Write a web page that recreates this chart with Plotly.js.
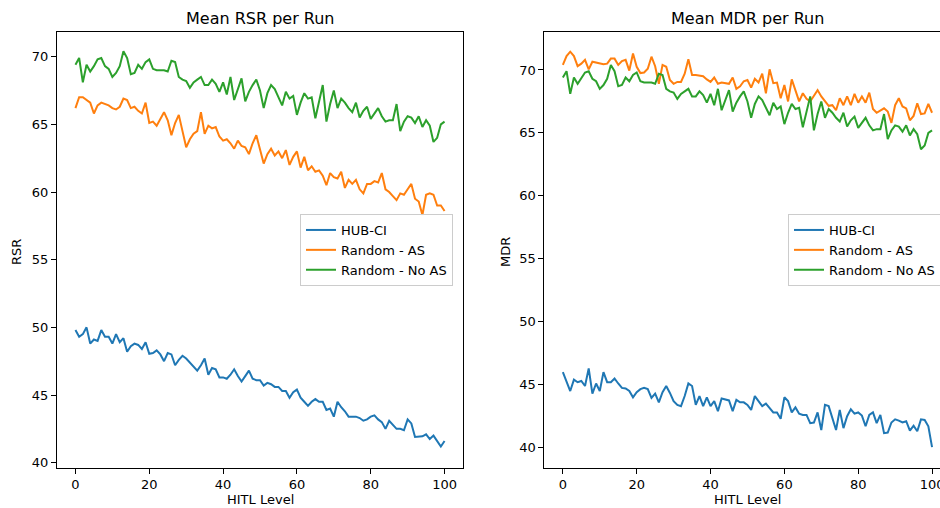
<!DOCTYPE html>
<html>
<head>
<meta charset="utf-8">
<script src="https://cdn.plot.ly/plotly-3.0.1.min.js"></script>
<style>
  html, body { margin: 0; padding: 0; background: #fff; overflow: hidden; width: 940px; height: 508px; }
  #chart { width: 960px; height: 508px; }
</style>
</head>
<body>
<div id="chart"></div>
<script>
const hitlLevel = [0,1,2,3,4,5,6,7,8,9,10,11,12,13,14,15,16,17,18,19,20,21,22,23,24,25,26,27,28,29,30,31,32,33,34,35,36,37,38,39,40,41,42,43,44,45,46,47,48,49,50,51,52,53,54,55,56,57,58,59,60,61,62,63,64,65,66,67,68,69,70,71,72,73,74,75,76,77,78,79,80,81,82,83,84,85,86,87,88,89,90,91,92,93,94,95,96,97,98,99,100];

const seriesNames = ["HUB-CI", "Random - AS", "Random - No AS"];

const rsrHub = [49.8,49.3,49.5,50.0,48.8,49.1,49.0,49.8,49.3,49.3,
48.8,49.5,48.9,49.2,48.2,48.6,48.8,48.7,48.4,48.9,
48.05,48.1,48.3,48.0,47.5,48.1,48.0,47.2,47.6,47.9,
47.7,47.4,47.1,46.8,47.2,47.7,46.5,47.0,46.9,46.3,
46.3,46.2,46.5,46.9,46.4,46.0,46.4,46.8,46.2,46.1,
46.1,45.7,45.9,45.8,45.6,45.6,45.3,45.3,44.8,45.2,
45.4,44.8,44.5,44.2,44.5,44.7,44.5,44.5,43.9,44.0,
43.4,44.5,44.1,43.8,43.4,43.4,43.4,43.3,43.1,43.2,
43.4,43.5,43.2,43.0,42.5,43.1,42.8,42.5,42.5,42.4,
43.2,42.9,41.9,41.9,41.95,42.1,41.75,42.0,41.6,41.2,
41.6];

const rsrAs = [66.2,67.0,67.0,66.8,66.6,65.8,66.4,66.6,66.5,66.4,
66.2,66.1,66.3,66.9,66.8,66.2,66.3,66.0,65.8,66.6,
65.1,65.2,64.9,65.4,65.9,65.3,64.2,65.1,65.7,64.5,
63.3,63.9,64.3,64.5,65.9,64.3,64.9,64.7,64.8,64.1,
63.8,63.9,63.6,63.2,63.8,63.4,63.3,62.8,63.6,64.2,
63.2,62.1,62.8,63.2,62.7,63.0,62.5,63.1,62.0,62.6,
63.0,61.8,62.6,61.6,61.9,61.5,61.6,61.2,60.5,61.4,
61.1,61.0,61.5,60.3,60.9,60.6,60.9,60.2,59.9,60.6,
60.6,60.8,60.7,61.4,60.2,60.0,59.7,59.4,59.9,59.8,
60.2,60.6,59.5,59.3,58.3,59.8,59.9,59.8,59.0,59.0,
58.6];

const rsrNoAs = [69.4,69.9,68.1,69.4,68.9,69.3,69.8,69.9,69.3,69.1,
68.5,68.8,69.3,70.4,69.9,68.7,68.8,69.4,69.1,69.6,
69.8,69.1,69.0,69.0,69.0,68.9,69.7,69.6,68.5,68.3,
68.2,67.7,68.1,68.3,68.5,67.9,67.9,68.3,68.0,67.4,
68.1,67.2,68.5,66.8,67.6,68.4,66.7,67.4,67.9,68.3,
67.5,66.2,67.3,67.9,67.6,67.0,66.4,67.4,66.9,67.1,
65.7,66.6,67.3,66.9,67.0,65.45,66.6,67.9,65.2,66.5,
67.5,66.2,66.9,66.6,66.2,65.9,66.6,65.5,66.0,66.3,
65.4,65.8,66.2,65.6,65.2,65.3,65.3,66.5,64.5,65.2,
65.6,65.5,65.1,65.6,64.8,65.3,64.9,63.7,64.0,65.0,
65.2];

const mdrHub = [46.0,45.3,44.5,45.4,45.2,45.3,44.9,46.3,44.3,45.1,
44.5,46.0,45.2,45.2,45.5,45.1,44.75,44.7,44.5,44.0,
44.4,44.65,44.75,44.65,43.95,44.3,43.6,44.4,44.9,44.35,
43.7,43.4,43.3,44.1,45.1,44.9,43.4,44.1,43.3,44.0,
43.3,43.7,42.9,43.9,43.8,43.75,42.9,43.8,43.6,43.6,
43.4,43.0,44.1,43.7,43.3,43.5,43.15,42.8,42.8,42.3,
44.0,43.7,42.8,43.2,42.7,42.6,42.6,41.95,42.0,42.8,
41.4,43.4,43.3,42.4,41.4,43.0,41.55,42.5,43.05,42.7,
42.8,42.55,41.7,42.6,42.8,41.95,42.6,41.15,41.2,42.0,
42.25,42.15,42.0,42.1,41.35,41.75,41.3,42.25,42.2,41.7,
40.05];

const mdrAs = [70.4,71.1,71.45,71.1,70.3,70.5,70.8,70.05,70.65,70.6,
70.5,70.45,70.5,70.9,70.9,70.4,70.7,70.8,69.95,71.3,
70.25,69.75,69.8,70.1,71.05,70.3,68.9,70.4,70.25,69.2,
68.9,69.05,69.05,69.7,70.85,69.6,69.6,69.55,69.5,69.25,
69.05,69.4,68.9,69.0,68.95,68.9,69.4,68.5,68.7,69.1,
69.2,68.6,69.3,69.0,69.7,68.15,70.05,68.95,69.0,67.75,
68.8,67.5,69.25,68.3,67.5,68.15,67.7,67.5,67.9,68.4,
67.9,67.5,67.15,67.2,66.8,67.75,67.2,67.9,67.2,68.1,
67.4,67.9,67.4,68.2,66.9,66.6,66.8,66.95,66.7,65.8,
67.2,67.75,67.1,66.95,66.0,66.35,67.35,66.5,66.55,67.3,
66.6];

const mdrNoAs = [69.4,69.9,68.1,69.4,68.9,69.3,69.8,69.9,69.3,69.1,
68.5,68.8,69.3,70.4,69.9,68.7,68.8,69.4,69.1,69.6,
69.8,69.1,69.0,69.0,69.0,68.9,69.7,69.6,68.5,68.3,
68.2,67.7,68.1,68.3,68.5,67.9,67.9,68.3,68.0,67.4,
68.1,67.2,68.5,66.8,67.6,68.4,66.7,67.4,67.9,68.3,
67.5,66.2,67.3,67.9,67.6,67.0,66.4,67.4,66.9,67.1,
65.7,66.6,67.3,66.9,67.0,65.45,66.6,67.9,65.2,66.5,
67.5,66.2,66.9,66.6,66.2,65.9,66.6,65.5,66.0,66.3,
65.4,65.8,66.2,65.6,65.2,65.3,65.3,66.5,64.5,65.2,
65.6,65.5,65.1,65.6,64.8,65.3,64.9,63.7,64.0,65.0,
65.2];

const colors = ["#1f77b4", "#ff7f0e", "#2ca02c"];
const FONT = "DejaVu Sans, Arial, sans-serif";

const leftSeries = [rsrHub, rsrAs, rsrNoAs];
const rightSeries = [mdrHub, mdrAs, mdrNoAs];

const traces = [];
leftSeries.forEach((ys, k) => traces.push({
  type: "scatter", mode: "lines", x: hitlLevel, y: ys, name: seriesNames[k],
  xaxis: "x", yaxis: "y", legend: "legend",
  line: { color: colors[k], width: 2 }
}));
rightSeries.forEach((ys, k) => traces.push({
  type: "scatter", mode: "lines", x: hitlLevel, y: ys, name: seriesNames[k],
  xaxis: "x2", yaxis: "y2", legend: "legend2",
  line: { color: colors[k], width: 2 }
}));

const W = 960, H = 508;
const yDom = [1 - 467.7 / H, 1 - 32.3 / H];

function axisX(dom) {
  return {
    domain: dom, range: [-5, 105], tickvals: [0, 20, 40, 60, 80, 100],
    showline: true, mirror: true, linecolor: "#000", linewidth: 1,
    ticks: "outside", ticklen: 5, tickcolor: "#000", tickwidth: 1,
    showgrid: false, zeroline: false,
    tickfont: { family: FONT, size: 13, color: "#000" }
  };
}
function axisY(range, anchor) {
  return {
    domain: yDom, range: range, anchor: anchor, tickvals: [40, 45, 50, 55, 60, 65, 70],
    showline: true, mirror: true, linecolor: "#000", linewidth: 1,
    ticks: "outside", ticklen: 5, tickcolor: "#000", tickwidth: 1,
    showgrid: false, zeroline: false,
    tickfont: { family: FONT, size: 13, color: "#000" }
  };
}

const legendBase = {
  y: 1 - 214 / H, xanchor: "left", yanchor: "top",
  bgcolor: "rgba(255,255,255,0.85)", bordercolor: "#cccccc", borderwidth: 1,
  font: { family: FONT, size: 13, color: "#000" }, itemwidth: 30, tracegroupgap: 0
};

const ann = (text, x, y, opts) => Object.assign({
  text: text, x: x, y: y, xref: "paper", yref: "paper", showarrow: false,
  xanchor: "center", yanchor: "middle",
  font: { family: FONT, size: 13, color: "#000" }
}, opts || {});

const layout = {
  width: W, height: H,
  margin: { l: 0, r: 0, t: 0, b: 0 },
  paper_bgcolor: "#fff", plot_bgcolor: "#fff",
  showlegend: true,
  xaxis: Object.assign(axisX([57 / W, 463 / W]), { anchor: "y" }),
  yaxis: axisY([39.63, 71.8], "x"),
  xaxis2: Object.assign(axisX([544.4 / W, 950.5 / W]), { anchor: "y2" }),
  yaxis2: axisY([38.41, 72.99], "x2"),
  legend: Object.assign({ x: 300 / W }, legendBase),
  legend2: Object.assign({ x: 788 / W }, legendBase),
  annotations: [
    ann("Mean RSR per Run", 260 / W, 1 - 18 / H, { font: { family: FONT, size: 16, color: "#000" } }),
    ann("Mean MDR per Run", 747.5 / W, 1 - 18 / H, { font: { family: FONT, size: 16, color: "#000" } }),
    ann("HITL Level", 260 / W, 1 - 499 / H),
    ann("HITL Level", 747 / W, 1 - 499 / H),
    ann("RSR", 16 / W, 1 - 252 / H, { textangle: -90 }),
    ann("MDR", 505 / W, 1 - 252 / H, { textangle: -90 })
  ]
};

Plotly.newPlot("chart", traces, layout, { displayModeBar: false, responsive: false, staticPlot: true });
</script>
</body>
</html>
